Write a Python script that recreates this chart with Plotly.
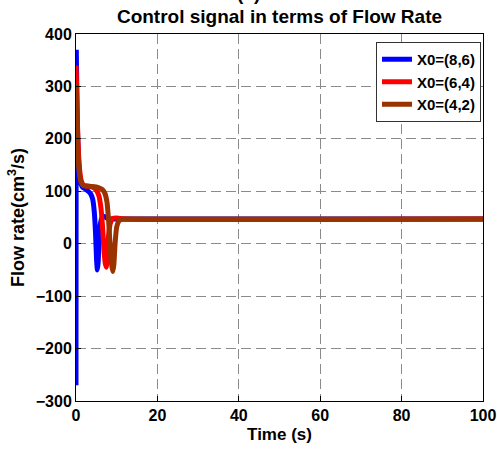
import plotly.graph_objects as go

t_blue = [0, 0.08, 0.2, 0.35, 0.6, 0.9, 1.2, 1.6, 2.2, 3.0, 3.6, 4.1, 4.5, 4.8, 5.05, 5.25, 5.45, 5.7, 6.0, 6.4, 6.9, 7.5, 8.5, 10, 100]
y_blue = [-270, 365, 290, 220, 165, 130, 115, 108, 105, 100, 95, 85, 60, 20, -30, -50, -35, 10, 38, 50, 52, 49, 47, 47, 47]

t_red = [0, 0.15, 0.35, 0.6, 0.9, 1.3, 1.8, 2.5, 3.5, 4.3, 5.0, 5.6, 6.1, 6.5, 6.9, 7.2, 7.45, 7.7, 8.0, 8.4, 9.0, 10, 12, 100]
y_red = [340, 300, 230, 175, 140, 120, 112, 110, 109, 107, 102, 92, 70, 35, -15, -38, -45, -25, 15, 38, 48, 49, 47, 47]

t_brown = [0, 0.15, 0.35, 0.6, 0.9, 1.3, 1.8, 2.5, 4.0, 5.5, 6.5, 7.1, 7.6, 8.0, 8.4, 8.75, 9.05, 9.3, 9.6, 10.0, 10.5, 11.2, 12.5, 100]
y_brown = [305, 255, 195, 155, 130, 116, 111, 110, 109, 107, 103, 96, 80, 45, -5, -40, -53, -40, 0, 32, 43, 47, 47, 47]

names = ["X0=(8,6)", "X0=(6,4)", "X0=(4,2)"]
colors = ["#0000FF", "#FF0000", "#993300"]

x_ticks = [0, 20, 40, 60, 80, 100]
y_ticks = [-300, -200, -100, 0, 100, 200, 300, 400]

FONT = "Arial, Liberation Sans, sans-serif"

fig = go.Figure()
for tt, yy, nm, c in zip([t_blue, t_red, t_brown], [y_blue, y_red, y_brown], names, colors):
    fig.add_trace(go.Scatter(x=tt, y=yy, mode="lines", name=nm,
                             line=dict(color=c, width=5, shape="spline", smoothing=0.5)))

axis_common = dict(showline=True, linecolor="black", linewidth=1, mirror=True,
                   showgrid=True, gridcolor="#8a8a8a", griddash="10px,5px", gridwidth=1,
                   zeroline=False, ticks="inside", ticklen=5, tickcolor="black",
                   automargin=False,
                   tickfont=dict(family=FONT, size=16, color="black", weight="bold"))

fig.update_layout(
    width=497, height=453,
    margin=dict(l=76, r=14, t=34, b=52),
    paper_bgcolor="white", plot_bgcolor="white",
    title=dict(text="<b>Control signal in terms of Flow Rate</b>", x=0.5, xref="paper", xanchor="center",
               y=1 - 16.5 / 453, yanchor="middle", yref="container",
               font=dict(family=FONT, size=19, color="black")),
    xaxis=dict(range=[0, 100], tickvals=x_ticks,
               title=dict(text="<b>Time (s)</b>", font=dict(family=FONT, size=17, color="black"), standoff=4),
               **axis_common),
    yaxis=dict(range=[-300, 400], tickvals=y_ticks,
               title=dict(text="<b>Flow rate(cm<sup>3</sup>/s)</b>", font=dict(family=FONT, size=18, color="black"), standoff=6),
               **axis_common),
    legend=dict(x=(481 - 76) / 407, y=(401 - 42) / 367, xanchor="right", yanchor="top",
                bgcolor="white", bordercolor="#333333", borderwidth=1,
                font=dict(family=FONT, size=15, color="black", weight="bold"),
                itemwidth=30, tracegroupgap=0),
    showlegend=True,
    annotations=[dict(text="<b>(c)</b>", xref="paper", yref="paper", x=(248 - 76) / 407, y=(401 + 6) / 367,
                      xanchor="center", yanchor="middle", showarrow=False,
                      font=dict(family=FONT, size=19, color="black"))],
)

fig.write_html("out.html", config={"displayModeBar": False},
               post_script="document.body.style.margin='0';document.body.style.padding='0';")
